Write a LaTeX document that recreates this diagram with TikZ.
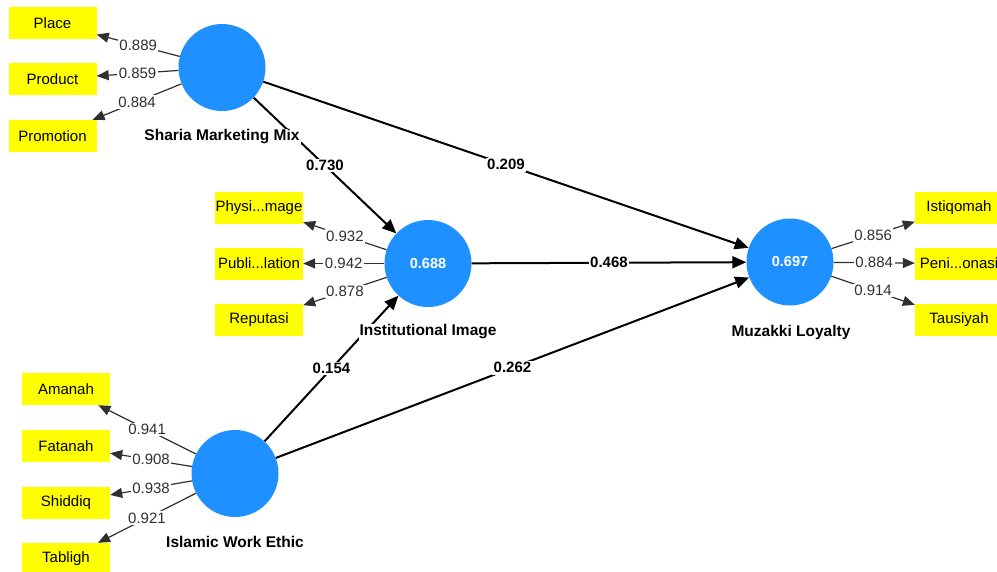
\documentclass[tikz,border=0pt]{standalone}
\usepackage{fontspec}
\setmainfont{Liberation Sans}
\usepackage{xcolor}
\usetikzlibrary{arrows.meta}
\definecolor{lvblue}{HTML}{1E90FF}
\definecolor{indyel}{HTML}{FFFF00}
\definecolor{loadgray}{HTML}{303030}
\tikzset{
  lv/.style={circle, fill=lvblue, minimum size=87pt, inner sep=0pt, text=white, font=\fontsize{14.5}{17}\selectfont\bfseries},
  ind/.style={rectangle, fill=indyel, minimum width=88pt, minimum height=32pt, inner sep=0pt, font=\fontsize{15}{18}\selectfont},
  lab/.style={fill=white, inner sep=1pt, font=\fontsize{15.5}{18}\selectfont\bfseries},
  pth/.style={draw=black, line width=2pt, -{Triangle[length=14pt,width=12pt]}},
  load/.style={draw=loadgray, line width=1.2pt, -{Triangle[length=12pt,width=10pt]}},
  coef/.style={midway, fill=white, inner sep=1.5pt, text=black, font=\fontsize{15}{18}\selectfont\bfseries},
  lw/.style={midway, fill=white, inner sep=1.5pt, text=loadgray, font=\fontsize{15}{18}\selectfont},
}
\begin{document}
\begin{tikzpicture}[x=1pt,y=-1pt]
  \useasboundingbox (0,0) rectangle (997,571);
  % latent variables
  \node[lv] (smm) at (222,67.5) {};
  \node[lv] (ii) at (428,263.5) {0.688};
  \node[lv] (iwe) at (235,473.5) {};
  \node[lv] (ml) at (790,262) {0.697};
  % indicators
  \node[ind] (place) at (52.5,23) {Place};
  \node[ind] (product) at (52.5,79) {Product};
  \node[ind] (promo) at (52.5,136) {Promotion};
  \node[ind] (physi) at (259,207.5) {Physi...mage};
  \node[ind] (publi) at (259,263.5) {Publi...lation};
  \node[ind] (reput) at (259,320) {Reputasi};
  \node[ind] (amanah) at (66,389) {Amanah};
  \node[ind] (fatanah) at (66,446) {Fatanah};
  \node[ind] (shiddiq) at (66,502.5) {Shiddiq};
  \node[ind] (tabligh) at (66,559) {Tabligh};
  \node[ind] (istiq) at (959,207.5) {Istiqomah};
  \node[ind] (peni) at (959,263.5) {Peni...onasi};
  \node[ind] (tausi) at (959,320) {Tausiyah};
  % outer loadings
  \draw[load] (smm) -- node[lw] {0.889} (place);
  \draw[load] (smm) -- node[lw] {0.859} (product);
  \draw[load] (smm) -- node[lw] {0.884} (promo);
  \draw[load] (ii) -- node[lw] {0.932} (physi);
  \draw[load] (ii) -- node[lw] {0.942} (publi);
  \draw[load] (ii) -- node[lw] {0.878} (reput);
  \draw[load] (iwe) -- node[lw] {0.941} (amanah);
  \draw[load] (iwe) -- node[lw] {0.908} (fatanah);
  \draw[load] (iwe) -- node[lw] {0.938} (shiddiq);
  \draw[load] (iwe) -- node[lw] {0.921} (tabligh);
  \draw[load] (ml) -- node[lw] {0.856} (istiq);
  \draw[load] (ml) -- node[lw] {0.884} (peni);
  \draw[load] (ml) -- node[lw] {0.914} (tausi);
  % path coefficients
  \draw[pth] (smm) -- node[coef] {0.730} (ii);
  \draw[pth] (smm) -- node[coef] {0.209} (ml);
  \draw[pth] (ii) -- node[coef] {0.468} (ml);
  \draw[pth] (iwe) -- node[coef] {0.154} (ii);
  \draw[pth] (iwe) -- node[coef] {0.262} (ml);
  % construct names on top
  \node[lab] (smmlab) at (222,137) {Sharia Marketing Mix};
  \node[lab] (iilab) at (428,332) {Institutional Image};
  \node[lab] (iwelab) at (235,542) {Islamic Work Ethic};
  \node[lab] (mllab) at (791,332) {Muzakki Loyalty};
\end{tikzpicture}
\end{document}
